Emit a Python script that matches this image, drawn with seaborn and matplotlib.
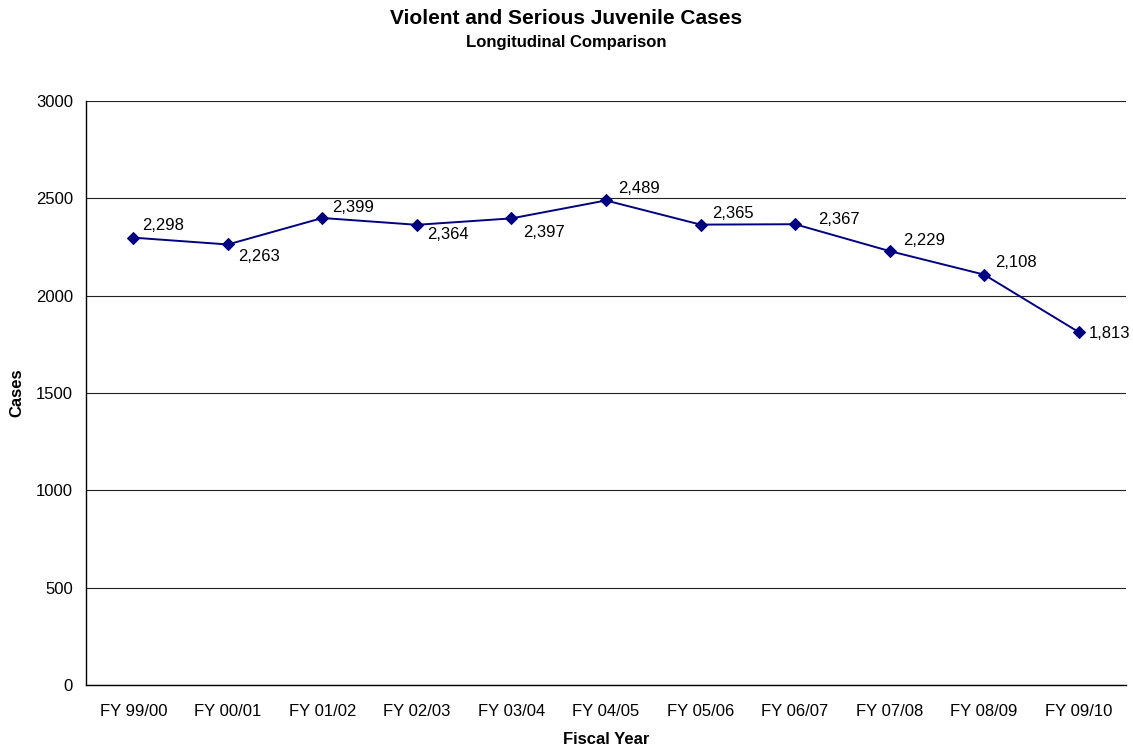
import matplotlib
matplotlib.use("Agg")
import matplotlib.pyplot as plt
import seaborn as sns
import pandas as pd

categories = ["FY 99/00", "FY 00/01", "FY 01/02", "FY 02/03", "FY 03/04", "FY 04/05",
              "FY 05/06", "FY 06/07", "FY 07/08", "FY 08/09", "FY 09/10"]
cases = [2298, 2263, 2399, 2364, 2397, 2489, 2365, 2367, 2229, 2108, 1813]
y_ticks = [0, 500, 1000, 1500, 2000, 2500, 3000]
# label offsets (pixels): dx to text left edge, dy to text centre (up positive)
label_dx = [9, 10, 10, 10, 12, 12, 12, 23, 13, 11, 10]
label_dy = [12, -12, 10, -10, -14, 12, 11, 5, 11, 12, -1]

sns.set_style("white")
plt.rcParams['font.family'] = ['Liberation Sans', 'DejaVu Sans']
plt.rcParams['text.color'] = 'black'
plt.rcParams['axes.labelcolor'] = 'black'
plt.rcParams['xtick.color'] = 'black'
plt.rcParams['ytick.color'] = 'black'

df = pd.DataFrame({"Fiscal Year": categories, "Cases": cases})

fig = plt.figure(figsize=(11.33, 7.45), dpi=100)
ax = fig.add_axes([86/1133, 60/745, (1126-86)/1133, (685-101)/745])

sns.lineplot(data=df, x="Fiscal Year", y="Cases", ax=ax, color="#000080",
             marker="D", markersize=6, markeredgecolor="#000080", linewidth=1.4,
             sort=False)

ax.set_xlim(-0.5, len(categories) - 0.5)
ax.set_ylim(0, 3000)
ax.set_yticks(y_ticks)
ax.set_yticklabels([str(v) for v in y_ticks], fontsize=12)
ax.yaxis.grid(True, color="#222222", linewidth=0.8)
ax.set_axisbelow(True)

ax.set_xticks(range(len(categories)))
ax.set_xticklabels(categories, fontsize=12)
ax.set_xticks([i - 0.5 for i in range(len(categories) + 1)], minor=True)
ax.tick_params(axis="x", which="major", length=0, pad=14)
ax.tick_params(axis="x", which="minor", length=3.6, width=1, color="black", direction="out")
ax.tick_params(axis="y", length=3.6, width=1, color="black", direction="out", pad=5.8)

for s in ["top", "right"]:
    ax.spines[s].set_visible(False)
for s in ["left", "bottom"]:
    ax.spines[s].set_color("black")
    ax.spines[s].set_linewidth(1.0)

for i, v in enumerate(cases):
    ax.annotate(f"{v:,}", (i, v), xytext=(label_dx[i], label_dy[i]),
                textcoords="offset pixels", ha="left", va="center", fontsize=12,
                color="black")

ax.set_xlabel("Fiscal Year", fontsize=12, fontweight="bold", labelpad=9)
ax.set_ylabel("Cases", fontsize=12, fontweight="bold", labelpad=8)

fig.text(0.5, 1 - 18/745, "Violent and Serious Juvenile Cases", ha="center", va="center",
         fontsize=15, fontweight="bold")
fig.text(0.5, 1 - 43/745, "Longitudinal Comparison", ha="center", va="center",
         fontsize=12, fontweight="bold")

fig.savefig("out.png", dpi=100)
